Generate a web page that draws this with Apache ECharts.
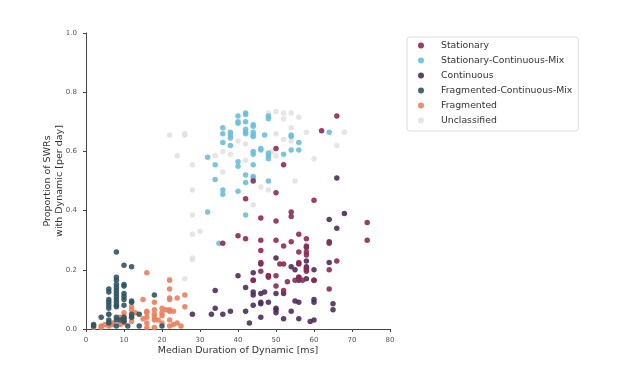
<!DOCTYPE html>
<html>
<head>
<meta charset="utf-8">
<script src="https://cdn.jsdelivr.net/npm/echarts@6/dist/echarts.min.js"></script>
<style>
  html, body { margin: 0; padding: 0; background: #fff; }
  #chart { width: 617px; height: 373px; }
</style>
</head>
<body>
<div id="chart"></div>
<script>
// [median duration (ms), proportion per day]
var stationary = [
  [66, 0.72], [62, 0.67], [50, 0.61], [50, 0.46], [50, 0.365], [50, 0.30],
  [52, 0.555], [52, 0.28], [52, 0.22], [52, 0.13], [44, 0.50], [42, 0.44],
  [42, 0.305], [60, 0.435], [54, 0.395], [54, 0.38], [54, 0.295], [46, 0.375],
  [46, 0.30], [46, 0.265], [46, 0.225], [46, 0.195], [74, 0.36], [74, 0.30],
  [36, 0.29], [40, 0.315], [56, 0.32], [56, 0.26], [56, 0.225], [56, 0.175],
  [58, 0.305], [58, 0.28], [58, 0.26], [58, 0.25], [58, 0.205], [58, 0.195],
  [64, 0.29], [64, 0.20], [64, 0.135], [66, 0.23], [48, 0.18], [48, 0.175],
  [50, 0.18], [50, 0.145], [51, 0.22], [53, 0.16], [55, 0.165], [57, 0.165],
  [44, 0.165], [60, 0.165]
];
var statContMix = [
  [32, 0.58], [32, 0.395], [34, 0.555], [34, 0.505], [36, 0.68], [36, 0.66],
  [36, 0.63], [36, 0.47], [36, 0.455], [38, 0.665], [38, 0.655], [38, 0.645],
  [38, 0.62], [35, 0.29], [40, 0.72], [40, 0.70], [40, 0.695], [40, 0.565],
  [40, 0.55], [40, 0.465], [42, 0.73], [42, 0.725], [42, 0.70], [42, 0.675],
  [42, 0.665], [42, 0.66], [42, 0.52], [42, 0.495], [42, 0.385], [44, 0.69],
  [44, 0.685], [44, 0.665], [44, 0.655], [44, 0.65], [44, 0.60], [44, 0.59],
  [44, 0.555], [44, 0.515], [44, 0.51], [46, 0.61], [46, 0.605], [47, 0.655],
  [48, 0.72], [48, 0.71], [48, 0.595], [48, 0.585], [48, 0.575], [48, 0.50],
  [52, 0.59], [54, 0.655], [54, 0.65], [54, 0.605], [56, 0.63], [56, 0.605],
  [64, 0.665]
];
var continuous = [
  [66, 0.51], [66, 0.34], [68, 0.39], [64, 0.37], [64, 0.295], [64, 0.225],
  [60, 0.20], [60, 0.165], [60, 0.10], [60, 0.09], [60, 0.03], [58, 0.275],
  [58, 0.23], [58, 0.21], [58, 0.20], [58, 0.17], [56, 0.22], [56, 0.175],
  [56, 0.165], [56, 0.09], [56, 0.035], [54, 0.21], [54, 0.06], [55, 0.20],
  [55, 0.095], [50, 0.24], [50, 0.12], [50, 0.07], [50, 0.065], [50, 0.055],
  [52, 0.12], [52, 0.035], [48, 0.18], [48, 0.09], [46, 0.22], [46, 0.12],
  [46, 0.09], [46, 0.085], [46, 0.04], [44, 0.19], [44, 0.165], [44, 0.125],
  [44, 0.115], [44, 0.08], [42, 0.14], [42, 0.06], [40, 0.18], [38, 0.06],
  [36, 0.05], [34, 0.13], [34, 0.07], [33, 0.05], [28, 0.05], [43, 0.02],
  [47, 0.125], [59, 0.025], [65, 0.085], [65, 0.065]
];
var fragContMix = [
  [8, 0.26], [8, 0.175], [8, 0.165], [8, 0.15], [8, 0.14], [8, 0.13],
  [8, 0.12], [8, 0.11], [8, 0.10], [8, 0.09], [8, 0.08], [8, 0.075],
  [8, 0.04], [8, 0.03], [8, 0.01], [6, 0.135], [6, 0.125], [6, 0.10],
  [6, 0.09], [6, 0.08], [6, 0.07], [6, 0.05], [6, 0.03], [6, 0.02],
  [10, 0.215], [10, 0.15], [10, 0.145], [10, 0.12], [10, 0.11], [10, 0.10],
  [10, 0.08], [10, 0.04], [10, 0.03], [10, 0.025], [12, 0.21], [12, 0.095],
  [12, 0.09], [12, 0.05], [12, 0.04], [18, 0.115], [2, 0.015], [2, 0.01],
  [4, 0.04], [14, 0.05], [14, 0.01], [20, 0.01], [11, 0.01], [9, 0.03]
];
var fragmented = [
  [16, 0.19], [22, 0.165], [22, 0.135], [22, 0.105], [22, 0.10], [22, 0.065],
  [22, 0.06], [22, 0.03], [22, 0.01], [26, 0.115], [26, 0.075], [24, 0.105],
  [24, 0.02], [20, 0.07], [20, 0.055], [20, 0.045], [20, 0.02], [18, 0.09],
  [18, 0.065], [18, 0.05], [18, 0.04], [18, 0.03], [18, 0.005], [16, 0.06],
  [16, 0.055], [16, 0.04], [16, 0.02], [16, 0.005], [15, 0.10], [15, 0.035],
  [12, 0.075], [12, 0.065], [12, 0.04], [12, 0.025], [10, 0.055], [10, 0.04],
  [10, 0.035], [10, 0.02], [6, 0.05], [6, 0.02], [6, 0.015], [6, 0.01],
  [4, 0.01], [4, 0.005], [2, 0.005], [13, 0.055], [9, 0.04], [9, 0.015],
  [21, 0.065], [23, 0.06], [23, 0.015], [25, 0.01], [19, 0.03], [7, 0.02],
  [7, 0.015], [5, 0.015]
];
var unclassified = [
  [22, 0.655], [22, 0.17], [24, 0.585], [26, 0.66], [26, 0.655], [26, 0.17],
  [28, 0.555], [28, 0.47], [28, 0.385], [28, 0.32], [28, 0.24], [28, 0.235],
  [30, 0.33], [34, 0.585], [36, 0.60], [36, 0.53], [38, 0.59], [40, 0.635],
  [42, 0.625], [42, 0.57], [44, 0.42], [46, 0.48], [48, 0.73], [48, 0.47],
  [50, 0.735], [50, 0.66], [50, 0.585], [52, 0.73], [52, 0.71], [52, 0.64],
  [54, 0.73], [54, 0.68], [54, 0.635], [55, 0.50], [56, 0.715], [58, 0.665],
  [60, 0.575], [66, 0.62], [68, 0.665], [49, 0.60]
];

var seriesNames = ['Stationary', 'Stationary-Continuous-Mix', 'Continuous',
  'Fragmented-Continuous-Mix', 'Fragmented', 'Unclassified'];
var seriesData = [stationary, statContMix, continuous, fragContMix, fragmented, unclassified];
var seriesColors = ['#8c2a55', '#6dbfd8', '#4e2c5e', '#2f5465', '#ea7f5c', '#e2e2e2'];
var xTicks = [0, 10, 20, 30, 40, 50, 60, 70, 80];
var yTicks = [0, 0.2, 0.4, 0.6, 0.8, 1.0];

var chart = echarts.init(document.getElementById('chart'));
var font = 'DejaVu Sans';

var series = [];
// draw order: lightest behind
var order = [5, 1, 4, 3, 2, 0];
for (var k = 0; k < order.length; k++) {
  var i = order[k];
  series.push({
    name: seriesNames[i],
    type: 'scatter',
    data: seriesData[i],
    symbolSize: 5.5,
    itemStyle: { color: seriesColors[i], opacity: 0.9 },
    z: 2 + k
  });
}

chart.setOption({
  animation: false,
  textStyle: { fontFamily: font },
  grid: { left: 86, right: 227, top: 33, bottom: 44 },
  legend: {
    data: seriesNames,
    orient: 'vertical',
    left: 407,
    top: 37,
    padding: [4, 6, 6, 11],
    itemWidth: 6,
    itemHeight: 6,
    itemGap: 6,
    icon: 'circle',
    borderColor: '#dddddd',
    borderWidth: 1,
    borderRadius: 3,
    textStyle: { fontFamily: font, fontSize: 9.3, color: '#333', padding: [0, 0, 0, 12] }
  },
  xAxis: {
    type: 'value',
    min: 0, max: 80, interval: 10,
    offset: 4,
    name: 'Median Duration of Dynamic [ms]',
    nameLocation: 'middle',
    nameGap: 13,
    nameMoveOverlap: false,
    nameTextStyle: { fontFamily: font, fontSize: 9.5, color: '#333' },
    axisLine: { show: true, lineStyle: { color: '#444', width: 1 } },
    axisTick: { show: true, length: 3, lineStyle: { color: '#444' } },
    axisLabel: { fontSize: 7, color: '#555', margin: 4, formatter: function (v) { return xTicks.indexOf(v) >= 0 ? String(v) : ''; } },
    splitLine: { show: false }
  },
  yAxis: {
    type: 'value',
    min: 0, max: 1, interval: 0.2,
    offset: 5,
    name: 'Proportion of SWRs\nwith Dynamic [per day]',
    nameLocation: 'middle',
    nameGap: 15,
    nameMoveOverlap: false,
    nameTextStyle: { fontFamily: font, fontSize: 9.5, color: '#333', lineHeight: 12 },
    axisLine: { show: true, lineStyle: { color: '#444', width: 1 } },
    axisTick: { show: true, length: 3, lineStyle: { color: '#444' } },
    axisLabel: { fontSize: 7, color: '#555', margin: 4, formatter: function (v) { return yTicks.indexOf(Math.round(v * 10) / 10) >= 0 ? v.toFixed(1) : ''; } },
    splitLine: { show: false }
  },
  series: series
});
</script>
</body>
</html>
